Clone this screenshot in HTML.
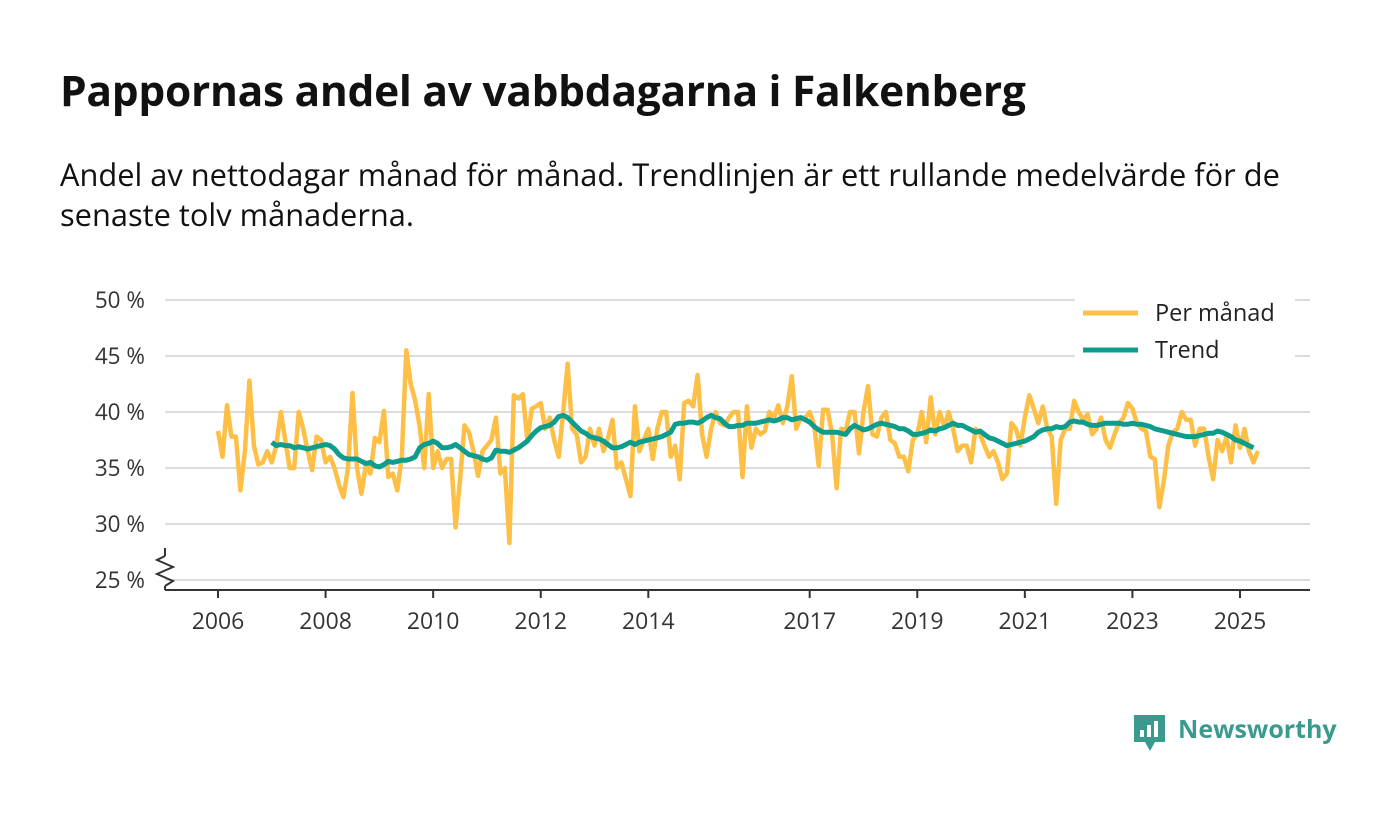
<!DOCTYPE html>
<html><head><meta charset="utf-8"><style>
body{margin:0;background:#fff;font-family:"Open Sans","DejaVu Sans","Liberation Sans",sans-serif;}
#wrap{position:relative;width:1400px;height:813px;overflow:hidden;}
h1{position:absolute;left:60px;top:62px;margin:0;font-size:42.5px;font-weight:bold;color:#111;letter-spacing:-0.3px;}
p.sub{position:absolute;left:60px;top:155px;margin:0;font-size:30.8px;line-height:40px;color:#111;width:1260px;}
svg{position:absolute;left:0;top:0;}
</style></head><body>
<div id="wrap">
<h1>Pappornas andel av vabbdagarna i Falkenberg</h1>
<p class="sub">Andel av nettodagar månad för månad. Trendlinjen är ett rullande medelvärde för de senaste tolv månaderna.</p>
<svg id="chart" width="1400" height="813"></svg>
</div>
<script>
const startYear = 2006;
const trendStartYear = 2007;
const yTicks = [25,30,35,40,45,50];
const xTickYears = [2006,2008,2010,2012,2014,2017,2019,2021,2023,2025];
const monthly = [
38.3,36,40.6,37.8,37.8,33,36.5,42.8,37,35.3,35.5,36.5,
35.5,37,40,37.5,35,35,40,38.5,36.5,34.8,37.8,37.5,
35.5,36,35,33.5,32.4,35,41.7,35,32.7,35.3,34.5,37.7,
37.3,40.1,34.2,34.5,33,36,45.5,42.5,41,38.7,35,41.6,
35,36.5,35,35.8,35.8,29.7,34,38.8,38.2,36.5,34.3,36.5,
37,37.5,39.5,34.5,35,28.3,41.5,41.2,41.6,37.5,40.3,40.5,
40.8,38.5,39.5,37.5,36,40,44.3,38.5,38,35.5,36,38.5,
37,38.5,36.5,37.7,39.3,35,35.5,34,32.5,40.5,36.5,37.5,
38.5,35.8,38.5,40,40,36,37,34,40.8,41,40.5,43.3,
38,36,38.5,40,39,38.8,39.5,40,40,34.2,40.5,36.8,
38.5,38,38.3,40,39.5,40.6,39,40.5,43.2,38.5,39.5,39.5,
40,38.8,35.2,40.2,40.2,38,33.2,38.5,38.3,40,40,36.3,
40,42.3,38,37.8,39.5,40,37.5,37.2,36,36,34.7,37.5,
38,40,37.3,41.3,38,40,38.7,40,38.5,36.5,37,37,
35.5,38.5,38,37,36,36.5,35.5,34,34.5,39,38.5,37,
39.5,41.5,40.3,39,40.5,38.5,37.8,31.8,37.5,38.5,38.5,41,
40,39.3,39.8,38,38.5,39.5,37.5,36.8,38,39,39.5,40.8,
40.3,39,38.5,38.3,36,35.8,31.5,33.8,37,38.2,38.5,40,
39.3,39.3,37,38.5,38.5,36,34,37.5,36.5,37.8,35.5,38.8,
36.8,38.5,36.5,35.5,36.5];
const trend = [
37.3,37,37.1,37,37,36.8,36.9,36.8,36.7,36.8,36.9,37,
37.1,37,36.7,36.2,35.9,35.8,35.8,35.8,35.6,35.4,35.5,35.2,
35.1,35.3,35.6,35.5,35.6,35.7,35.7,35.8,36,36.8,37.1,37.2,
37.4,37.2,36.8,36.8,36.9,37.1,36.8,36.5,36.2,36.1,36,35.8,
35.7,35.9,36.6,36.5,36.5,36.4,36.6,36.8,37.1,37.4,37.9,38.3,
38.6,38.7,38.8,39.1,39.6,39.7,39.5,39.1,38.7,38.3,38.1,37.8,
37.7,37.6,37.4,37.1,36.8,36.8,36.9,37.1,37.3,37.1,37.3,37.4,
37.5,37.6,37.7,37.8,38,38.2,38.9,39,39,39.1,39.1,39,
39.2,39.5,39.7,39.5,39.4,39,38.7,38.7,38.8,38.8,39,39,
39,39.1,39.2,39.3,39.2,39.3,39.5,39.5,39.3,39.4,39.5,39.3,
39.1,38.7,38.4,38.2,38.2,38.2,38.2,38.1,38,38.5,38.8,38.6,
38.4,38.5,38.7,38.9,39,38.9,38.8,38.7,38.5,38.5,38.3,38,
38,38.1,38.2,38.4,38.3,38.5,38.6,38.8,39,38.8,38.8,38.6,
38.4,38.2,38.3,38,37.7,37.6,37.4,37.2,37,37.1,37.2,37.3,
37.4,37.6,37.8,38.2,38.4,38.5,38.5,38.7,38.6,38.7,39.1,39.2,
39.1,39.1,38.9,38.8,38.8,38.9,39,39,39,39,38.9,38.9,
39,38.9,38.9,38.8,38.7,38.5,38.4,38.3,38.2,38.1,38,37.9,
37.8,37.8,37.8,37.9,38,38.1,38.1,38.3,38.2,38,37.8,37.5,
37.4,37.2,37,36.8];

const NS='http://www.w3.org/2000/svg';
const svg=document.getElementById('chart');
function xScale(yearFrac){return 218+(yearFrac-2006)*53.79;}
function yScale(v){return 300+(50-v)*11.2;}
function mk(tag,attrs){const e=document.createElementNS(NS,tag);for(const k in attrs)e.setAttribute(k,attrs[k]);svg.appendChild(e);return e;}

yTicks.forEach(t=>{
  const g=mk('line',{x1:165,x2:1310,y1:yScale(t),y2:yScale(t),stroke:'#dcdcdc','stroke-width':2});
  
  
  const l=mk('text',{x:145,y:yScale(t)+8,'text-anchor':'end','font-size':22.5,fill:'#333'});
  l.textContent=t+' %';
  
  
});
const ax=mk('line',{x1:165,x2:1310,y1:590,y2:590,stroke:'#333','stroke-width':2});


const yb=mk('path',{d:'M165 590 V586 M165 556 V548',stroke:'#333','stroke-width':2,fill:'none'});


const zz=mk('path',{d:'M165 556 L157 560 L173 567 L157 574 L173 581 L165 586',stroke:'#333','stroke-width':2,fill:'none'});


xTickYears.forEach(y=>{
  const x=xScale(y);
  const tk=mk('line',{x1:x,x2:x,y1:590,y2:598,stroke:'#333','stroke-width':2});
  
  
  const l=mk('text',{x:x,y:629,'text-anchor':'middle','font-size':23,fill:'#333'});
  l.textContent=y;
  
  
});
function pathFor(arr,y0){return arr.map((v,i)=>(i?'L':'M')+xScale(y0+i/12).toFixed(1)+' '+yScale(v).toFixed(1)).join(' ');}
const pm=mk('path',{d:pathFor(monthly,startYear),stroke:'#fdbf45','stroke-width':4.5,fill:'none','stroke-linejoin':'round'});


const tr=mk('path',{d:pathFor(trend,trendStartYear),stroke:'#0e9c8c','stroke-width':5,fill:'none','stroke-linejoin':'round'});


const lb=mk('rect',{x:1075,y:296,width:220,height:70,fill:'#fff'});


[['Per månad','#fdbf45',313],['Trend','#0e9c8c',350]].forEach(([t,c,y])=>{
  const s=mk('line',{x1:1083,x2:1138,y1:y,y2:y,stroke:c,'stroke-width':5});
  
  
  const l=mk('text',{x:1155,y:y+8,'font-size':23.5,fill:'#222'});
  l.textContent=t;
  
  
});
const ic=mk('path',{d:'M1134 715 H1165 V742 H1155 L1150 751 L1145 742 H1134 Z',fill:'#3a9a8e'});


[[1140,730,4,7],[1147,725,4,12],[1154,721,4,16]].forEach(([x,y,w,h])=>{
  const b=mk('rect',{x:x,y:y,width:w,height:h,fill:'#fff'});
  
  
});
const lt=mk('text',{x:1178,y:738,'font-size':25,'font-weight':'bold',fill:'#3a9a8e'});
lt.textContent='Newsworthy';


</script>
</body></html>
